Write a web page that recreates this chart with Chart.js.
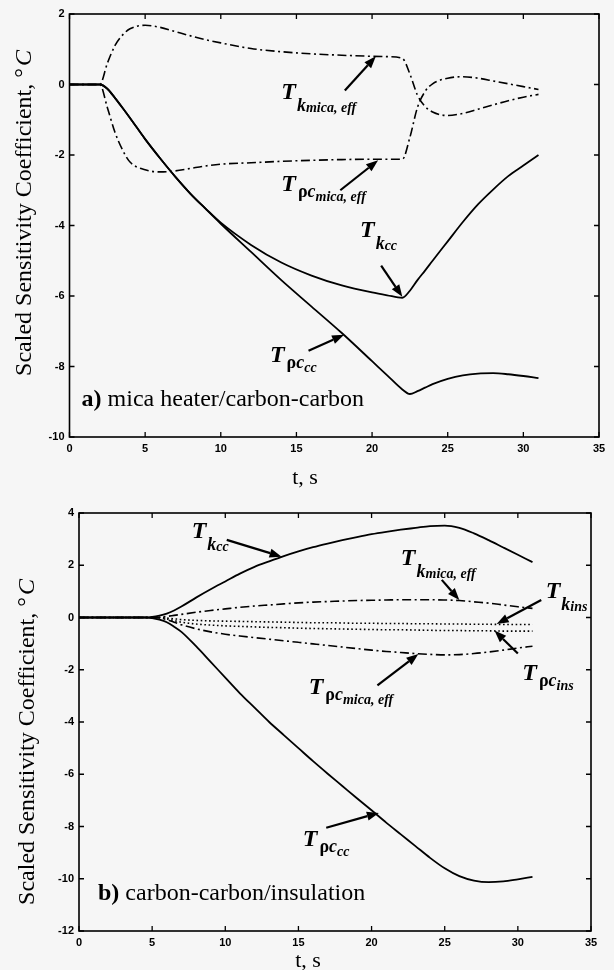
<!DOCTYPE html>
<html>
<head>
<meta charset="utf-8">
<script src="https://cdn.jsdelivr.net/npm/chart.js@4.4.0/dist/chart.umd.min.js"></script>
<style>
  html, body { margin: 0; padding: 0; background: #f6f6f6; }
  #wrap { position: relative; width: 614px; height: 970px; overflow: hidden; }
  #chartA { position: absolute; left: 0; top: 0; }
  #chartB { position: absolute; left: 0; top: 490px; }
</style>
</head>
<body>
<div id="wrap">
  <canvas id="chartA" width="614" height="490"></canvas>
  <canvas id="chartB" width="614" height="480"></canvas>
</div>
<script>
// ---- data, panel a (mica heater / carbon-carbon) ----
const tA = [0, 2, 2.5, 3, 3.5, 4, 5, 6, 7, 8, 9, 10, 12, 14, 16, 18, 20, 21, 22, 22.5, 23, 23.5, 24, 25, 26, 27, 28, 29, 30, 31];
const aKcc      = [0, 0, -0.12, -0.38, -0.66, -0.95, -1.55, -2.1, -2.62, -3.1, -3.52, -3.92, -4.55, -5.05, -5.42, -5.7, -5.9, -5.98, -6.05, -5.85, -5.55, -5.28, -5.0, -4.45, -3.9, -3.4, -2.98, -2.6, -2.3, -2.0];
const aRhoCcc   = [0, 0, -0.12, -0.38, -0.66, -0.95, -1.55, -2.1, -2.62, -3.1, -3.53, -3.95, -4.75, -5.55, -6.3, -7.05, -7.85, -8.25, -8.65, -8.78, -8.7, -8.6, -8.5, -8.35, -8.25, -8.2, -8.19, -8.22, -8.27, -8.33];
const aKmica    = [0, 0, 0.6, 1.1, 1.4, 1.58, 1.68, 1.62, 1.5, 1.38, 1.27, 1.18, 1.02, 0.93, 0.87, 0.83, 0.8, 0.79, 0.74, 0.3, -0.3, -0.62, -0.78, -0.88, -0.82, -0.7, -0.58, -0.46, -0.36, -0.28];
const aRhoCmica = [0, 0, -0.65, -1.35, -1.85, -2.2, -2.42, -2.48, -2.45, -2.38, -2.31, -2.26, -2.22, -2.18, -2.15, -2.13, -2.12, -2.12, -2.12, -1.5, -0.65, -0.2, 0.02, 0.18, 0.22, 0.18, 0.1, 0.02, -0.06, -0.14];

// ---- data, panel b (carbon-carbon / insulation) ----
const tB = [0, 4.5, 5, 5.5, 6, 6.5, 7, 8, 9, 10, 11, 12, 13, 14, 15, 16, 17, 18, 19, 20, 21, 22, 23, 24, 25, 26, 27, 28, 29, 30, 31];
const bKcc      = [0, 0, 0.02, 0.07, 0.15, 0.27, 0.42, 0.76, 1.08, 1.38, 1.68, 1.94, 2.15, 2.35, 2.53, 2.69, 2.83, 2.96, 3.08, 3.19, 3.28, 3.36, 3.43, 3.5, 3.52, 3.43, 3.22, 2.96, 2.68, 2.4, 2.12];
const bRhoCcc   = [0, 0, -0.02, -0.08, -0.18, -0.35, -0.55, -1.1, -1.7, -2.3, -2.9, -3.45, -4.0, -4.5, -5.0, -5.5, -5.98, -6.45, -6.92, -7.38, -7.85, -8.3, -8.75, -9.2, -9.6, -9.9, -10.07, -10.13, -10.1, -10.02, -9.93];
const bKmica    = [0, 0, 0, 0.01, 0.04, 0.08, 0.12, 0.2, 0.27, 0.33, 0.39, 0.44, 0.48, 0.52, 0.56, 0.59, 0.61, 0.63, 0.65, 0.66, 0.67, 0.68, 0.68, 0.68, 0.67, 0.65, 0.6, 0.55, 0.48, 0.41, 0.35];
const bRhoCmica = [0, 0, 0, -0.02, -0.08, -0.18, -0.28, -0.43, -0.55, -0.64, -0.71, -0.77, -0.83, -0.89, -0.95, -1.01, -1.07, -1.13, -1.19, -1.25, -1.3, -1.34, -1.38, -1.41, -1.43, -1.42, -1.38, -1.32, -1.25, -1.17, -1.1];
const bKins     = [0, 0, 0, 0, -0.02, -0.05, -0.08, -0.11, -0.13, -0.14, -0.15, -0.16, -0.17, -0.18, -0.19, -0.2, -0.2, -0.21, -0.22, -0.22, -0.23, -0.23, -0.24, -0.24, -0.25, -0.25, -0.26, -0.26, -0.27, -0.27, -0.27];
const bRhoCins  = [0, 0, 0, 0, -0.05, -0.12, -0.18, -0.25, -0.29, -0.32, -0.34, -0.36, -0.38, -0.39, -0.41, -0.42, -0.43, -0.44, -0.45, -0.46, -0.47, -0.47, -0.48, -0.49, -0.5, -0.5, -0.51, -0.51, -0.52, -0.52, -0.52];

const xTicks  = [0, 5, 10, 15, 20, 25, 30, 35];
const aYTicks = [-10, -8, -6, -4, -2, 0, 2];
const bYTicks = [-12, -10, -8, -6, -4, -2, 0, 2, 4];

const SERIF = '"Liberation Serif", "Times New Roman", serif';
const MAIN = 'italic bold 24px ' + SERIF;
const SUB = 'italic bold 18px ' + SERIF;
const GREEK = 'bold 18px ' + SERIF;
const SUBSUB = 'italic bold 14px ' + SERIF;

const SOLID = [];
const DASHDOT = [9, 3.5, 2, 3.5];
const DOTTED = [1.6, 2.6];

// label pieces: T with a k or rho-c subscript
function kLabel(sub) {
  return [{ t: 'T', f: MAIN, dy: 0, gap: 1 }, { t: 'k', f: SUB, dy: 12 }, { t: sub, f: SUBSUB, dy: 13 }];
}
function rhoLabel(sub) {
  return [{ t: 'T', f: MAIN, dy: 0, gap: 2 }, { t: 'ρ', f: GREEK, dy: 6 }, { t: 'c', f: SUB, dy: 6 }, { t: sub, f: SUBSUB, dy: 10 }];
}

// text at / arrow tail / arrow tip, all in data units
const aNotes = [
  { runs: kLabel('mica, eff'), at: [14.0, -0.4], tail: [18.2, -0.17], tip: [20.25, 0.8] },
  { runs: rhoLabel('mica, eff'), at: [14.0, -3.02], tail: [17.9, -3.0], tip: [20.4, -2.15] },
  { runs: kLabel('cc'), at: [19.2, -4.34], tail: [20.6, -5.14], tip: [22.0, -6.02] },
  { runs: rhoLabel('cc'), at: [13.25, -7.88], tail: [15.8, -7.55], tip: [18.15, -7.1] }
];
const bNotes = [
  { runs: kLabel('cc'), at: [7.7, 3.04], tail: [10.1, 2.97], tip: [13.85, 2.33] },
  { runs: kLabel('mica, eff'), at: [22.0, 2.01], tail: [24.8, 1.44], tip: [26.0, 0.67] },
  { runs: kLabel('ins'), at: [31.9, 0.73], tail: [31.6, 0.67], tip: [28.55, -0.25] },
  { runs: rhoLabel('ins'), at: [30.3, -2.41], tail: [30.0, -1.38], tip: [28.4, -0.5] },
  { runs: rhoLabel('mica, eff'), at: [15.7, -2.92], tail: [20.4, -2.6], tip: [23.2, -1.4] },
  { runs: rhoLabel('cc'), at: [15.3, -8.76], tail: [16.9, -8.05], tip: [20.5, -7.48] }
];

function arrow(ctx, x1, y1, x2, y2) {
  const ang = Math.atan2(y2 - y1, x2 - x1), L = 12, W = 4.5;
  const bx = x2 - L * Math.cos(ang), by = y2 - L * Math.sin(ang);
  ctx.lineWidth = 2.2;
  ctx.beginPath(); ctx.moveTo(x1, y1); ctx.lineTo(bx, by); ctx.stroke();
  ctx.beginPath();
  ctx.moveTo(x2, y2);
  ctx.lineTo(bx + W * Math.sin(ang), by - W * Math.cos(ang));
  ctx.lineTo(bx - W * Math.sin(ang), by + W * Math.cos(ang));
  ctx.closePath(); ctx.fill();
}

const decorPlugin = {
  id: 'decor',
  afterDraw(chart, args, o) {
    const { ctx, chartArea: ca, scales: { x, y } } = chart;
    ctx.save();
    ctx.strokeStyle = '#000'; ctx.fillStyle = '#000';
    ctx.setLineDash([]);
    // box
    ctx.lineWidth = 1.6;
    ctx.strokeRect(ca.left, ca.top, ca.right - ca.left, ca.bottom - ca.top);
    // inward ticks on all four sides
    ctx.lineWidth = 1.3;
    ctx.beginPath();
    x.ticks.forEach(t => {
      const px = x.getPixelForValue(t.value);
      ctx.moveTo(px, ca.bottom); ctx.lineTo(px, ca.bottom - 5);
      ctx.moveTo(px, ca.top); ctx.lineTo(px, ca.top + 5);
    });
    y.ticks.forEach(t => {
      const py = y.getPixelForValue(t.value);
      ctx.moveTo(ca.left, py); ctx.lineTo(ca.left + 5, py);
      ctx.moveTo(ca.right, py); ctx.lineTo(ca.right - 5, py);
    });
    ctx.stroke();

    // curve labels + arrows
    ctx.textBaseline = 'alphabetic'; ctx.textAlign = 'left';
    o.notes.forEach(n => {
      let px = x.getPixelForValue(n.at[0]);
      const py = y.getPixelForValue(n.at[1]);
      n.runs.forEach(r => {
        ctx.font = r.f;
        ctx.fillText(r.t, px, py + r.dy);
        px += ctx.measureText(r.t).width + (r.gap || 0);
      });
      arrow(ctx, x.getPixelForValue(n.tail[0]), y.getPixelForValue(n.tail[1]),
                 x.getPixelForValue(n.tip[0]), y.getPixelForValue(n.tip[1]));
    });

    // panel caption
    let cx = x.getPixelForValue(o.caption.at[0]);
    const cy = y.getPixelForValue(o.caption.at[1]);
    ctx.font = 'bold 24px ' + SERIF;
    ctx.fillText(o.caption.tag, cx, cy);
    cx += ctx.measureText(o.caption.tag).width;
    ctx.font = '24px ' + SERIF;
    ctx.fillText(o.caption.text, cx, cy);

    // x title
    ctx.font = '22px ' + SERIF;
    ctx.textAlign = 'center';
    ctx.fillText('t, s', o.xTitle[0], o.xTitle[1]);

    // y title (rotated), "C" in italics
    ctx.translate(o.yTitle[0], o.yTitle[1]);
    ctx.rotate(-Math.PI / 2);
    const main = 'Scaled Sensitivity Coefficient, °';
    ctx.font = '24px ' + SERIF;
    const w1 = ctx.measureText(main).width + 2;
    ctx.font = 'italic 24px ' + SERIF;
    const w2 = ctx.measureText('C').width;
    ctx.textAlign = 'left';
    ctx.textBaseline = 'middle';
    ctx.font = '24px ' + SERIF;
    ctx.fillText(main, -(w1 + w2) / 2, 0);
    ctx.font = 'italic 24px ' + SERIF;
    ctx.fillText('C', -(w1 + w2) / 2 + w1, 0);
    ctx.restore();
  }
};

function line(time, values, dash, width) {
  return {
    data: time.map((t, i) => ({ x: t, y: values[i] })),
    borderColor: '#000',
    borderWidth: width,
    borderDash: dash,
    pointRadius: 0,
    fill: false,
    cubicInterpolationMode: 'monotone'
  };
}

function makeChart(id, datasets, yMin, yMax, yTicks, pad, decor) {
  const tickFont = { family: '"Liberation Sans", Arial, sans-serif', size: 11, weight: 'bold' };
  return new Chart(document.getElementById(id), {
    type: 'line',
    data: { datasets },
    options: {
      responsive: false,
      animation: false,
      devicePixelRatio: 1,
      layout: { padding: pad },
      plugins: { legend: { display: false }, tooltip: { enabled: false }, decor },
      scales: {
        x: {
          type: 'linear', min: 0, max: 35,
          afterBuildTicks: s => { s.ticks = xTicks.map(v => ({ value: v })); },
          afterFit: s => { s.height = 25; },
          grid: { display: false, drawTicks: false },
          border: { display: false },
          ticks: { font: tickFont, color: '#000', padding: 5, autoSkip: false, maxRotation: 0 }
        },
        y: {
          type: 'linear', min: yMin, max: yMax,
          afterBuildTicks: s => { s.ticks = yTicks.map(v => ({ value: v })); },
          afterFit: s => { s.width = 60; },
          grid: { display: false, drawTicks: false },
          border: { display: false },
          ticks: { font: tickFont, color: '#000', padding: 5, autoSkip: false }
        }
      }
    },
    plugins: [decorPlugin]
  });
}

makeChart('chartA', [
  line(tA, aKcc, SOLID, 1.8),
  line(tA, aRhoCcc, SOLID, 1.8),
  line(tA, aKmica, DASHDOT, 1.6),
  line(tA, aRhoCmica, DASHDOT, 1.6)
], -10, 2, aYTicks, { left: 9.5, right: 15, top: 14, bottom: 28 }, {
  notes: aNotes,
  caption: { tag: 'a)', text: ' mica heater/carbon-carbon', at: [0.8, -9.13] },
  xTitle: [305, 484],
  yTitle: [25, 213]
});

makeChart('chartB', [
  line(tB, bKcc, SOLID, 1.8),
  line(tB, bRhoCcc, SOLID, 1.8),
  line(tB, bKmica, DASHDOT, 1.6),
  line(tB, bRhoCmica, DASHDOT, 1.6),
  line(tB, bKins, DOTTED, 1.6),
  line(tB, bRhoCins, DOTTED, 1.6)
], -12, 4, bYTicks, { left: 19, right: 23, top: 23, bottom: 14 }, {
  notes: bNotes,
  caption: { tag: 'b)', text: ' carbon-carbon/insulation', at: [1.3, -10.82] },
  xTitle: [308, 477],
  yTitle: [28, 252]
});
</script>
</body>
</html>
